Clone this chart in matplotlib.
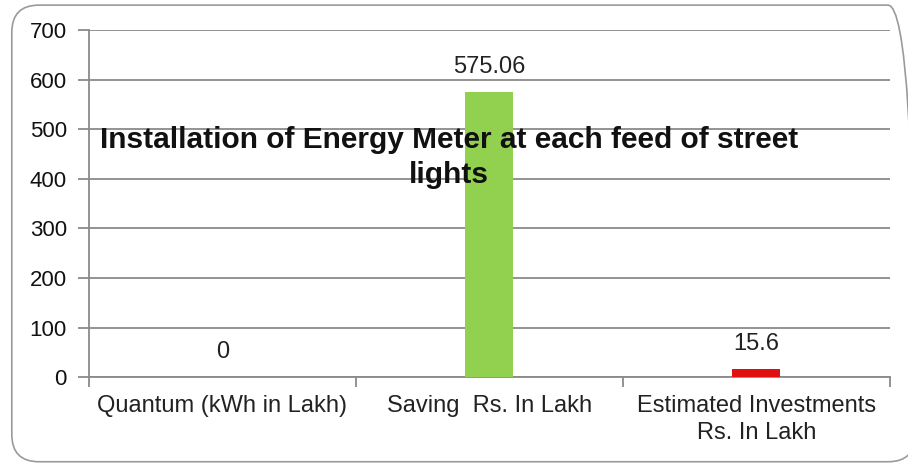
import matplotlib.pyplot as plt
from matplotlib.patches import FancyBboxPatch

categories = ["Quantum (kWh in Lakh)", "Saving  Rs. In Lakh", "Estimated Investments\nRs. In Lakh"]
values = [0, 575.06, 15.6]
value_labels = ["0", "575.06", "15.6"]
bar_colors = ["#92D050", "#92D050", "#E01010"]
title = "Installation of Energy Meter at each feed of street\nlights"

plt.rcParams['font.family'] = ['Liberation Sans', 'DejaVu Sans']

fig = plt.figure(figsize=(9.08, 4.65), dpi=100)
ax = fig.add_axes([0.098, 0.189, 0.882, 0.746])

# rounded frame round the whole chart (right edge runs off the picture)
frame = FancyBboxPatch((0.013, 0.007), 0.995, 0.982, boxstyle="round,pad=0,rounding_size=0.03",
                       transform=fig.transFigure, fill=False, edgecolor="#9a9a9a", linewidth=1.2,
                       mutation_aspect=908 / 465)
fig.patches.append(frame)

x = range(len(categories))
ax.bar(x, values, width=0.18, color=bar_colors, zorder=3)
for xi, v, lab in zip(x, values, value_labels):
    ax.annotate(lab, (xi, v), xytext=(0, 18), textcoords="offset points",
                ha="center", va="center", fontsize=17, color="#222222")

ax.set_xlim(-0.5, 2.5)
ax.set_ylim(0, 700)
ax.set_yticks(range(0, 701, 100))
ax.grid(axis="y", color="#8a8a8a", linewidth=1.3, zorder=0)
ax.tick_params(axis="y", labelsize=16, colors="#8a8a8a", labelcolor="#111111", length=8, width=1.3, pad=8)

ax.set_xticks([-0.5, 0.5, 1.5, 2.5])
ax.set_xticklabels([])
ax.set_xticks(list(x), minor=True)
ax.set_xticklabels(categories, minor=True, fontsize=17, color="#222222", linespacing=1.3)
ax.tick_params(axis="x", which="major", colors="#8a8a8a", length=7, width=1.3)
ax.tick_params(axis="x", which="minor", length=0, pad=13)

for s in ["top", "right"]:
    ax.spines[s].set_visible(False)
for s in ["left", "bottom"]:
    ax.spines[s].set_color("#8a8a8a")
    ax.spines[s].set_linewidth(1.3)

ax.text(0.45, 0.632, title, transform=ax.transAxes, ha="center", va="center",
        fontsize=21.5, fontweight="bold", color="#111111", linespacing=1.32, zorder=5)

fig.savefig("out.png", dpi=100)
